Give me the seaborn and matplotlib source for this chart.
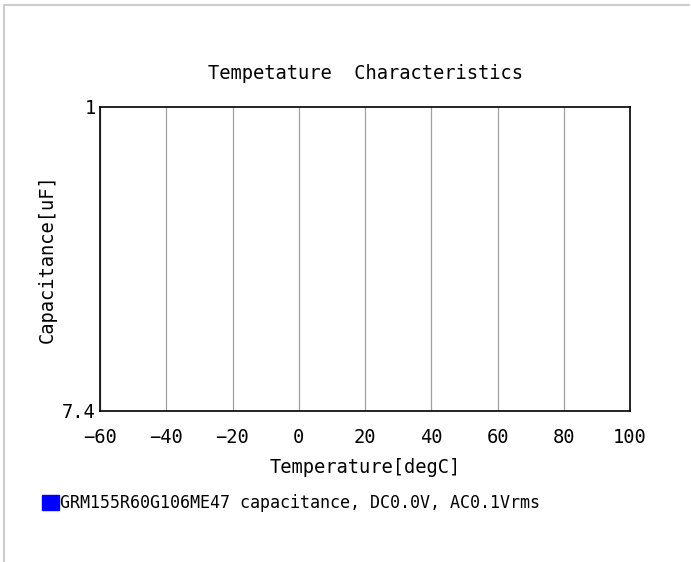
import matplotlib
matplotlib.use("Agg")
import matplotlib.pyplot as plt
from matplotlib.patches import Patch
from matplotlib.lines import Line2D
import seaborn as sns
import pandas as pd

# chart texts
title = "Tempetature  Characteristics"
x_label = "Temperature[degC]"
y_label = "Capacitance[uF]"
series_name = "GRM155R60G106ME47 capacitance, DC0.0V, AC0.1Vrms"

# axes ranges / ticks
x_ticks = [-60, -40, -20, 0, 20, 40, 60, 80, 100]
y_ticks = [1, 7.4]
y_tick_labels = ["1", "7.4"]

# measured series (no points fall inside the visible window)
temperature = []
capacitance = []

sns.set_theme(style="white")
plt.rcParams["font.family"] = ["DejaVu Sans Mono", "DejaVu Sans"]
plt.rcParams["text.color"] = "black"
plt.rcParams["axes.labelcolor"] = "black"

fig = plt.figure(figsize=(6.91, 5.62), dpi=100)
ax = fig.add_axes([100 / 691, 1 - 411 / 562, 530 / 691, 304 / 562])

df = pd.DataFrame({"temp": pd.Series(temperature, dtype=float),
                   "cap": pd.Series(capacitance, dtype=float)})
if len(df):
    sns.lineplot(data=df, x="temp", y="cap", color="blue", ax=ax, legend=False)

ax.set_xlim(x_ticks[0], x_ticks[-1])
ax.set_ylim(7.4, 1)
ax.set_xticks(x_ticks)
ax.set_yticks(y_ticks)
ax.set_yticklabels(y_tick_labels)
ax.tick_params(axis="both", length=0, labelsize=13.5, colors="black")
ax.tick_params(axis="x", pad=12)
ax.tick_params(axis="y", pad=3)

ax.xaxis.grid(True, color="#a0a0a0", linewidth=0.9)
ax.yaxis.grid(False)
for s in ax.spines.values():
    s.set_color("black")
    s.set_linewidth(1.2)

ax.set_title(title, fontsize=13.5, pad=20, color="black")
ax.set_xlabel(x_label, fontsize=13.5, labelpad=8)
ax.set_ylabel(y_label, fontsize=13.5, labelpad=4)

# legend below the plot
fig.legend(handles=[Patch(facecolor="blue", edgecolor="blue")], labels=[series_name],
           loc="center left", bbox_to_anchor=(42 / 691, 1 - 503 / 562),
           frameon=False, fontsize=12, handlelength=1.0, handleheight=1.0,
           handletextpad=0.1, borderpad=0, borderaxespad=0)

# light grey frame along top and left
fig.add_artist(Line2D([3.5 / 691, 689 / 691], [1 - 4.5 / 562, 1 - 4.5 / 562],
                      transform=fig.transFigure, color="#cccccc", linewidth=1.5))
fig.add_artist(Line2D([3.5 / 691, 3.5 / 691], [1 - 4.5 / 562, 0],
                      transform=fig.transFigure, color="#cccccc", linewidth=1.5))

fig.savefig("out.png", dpi=100)
